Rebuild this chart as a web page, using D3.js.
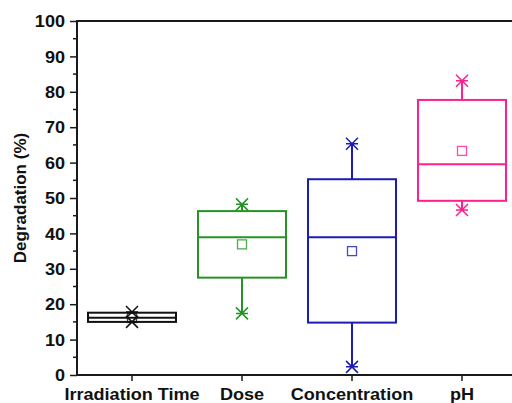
<!DOCTYPE html>
<html>
<head>
<meta charset="utf-8">
<script src="https://cdn.jsdelivr.net/npm/d3@7"></script>
<style>
  html, body { margin: 0; padding: 0; background: #fff; }
  svg { display: block; font-family: "Liberation Sans", Arial, sans-serif; }
</style>
</head>
<body>
<svg id="chart" width="512" height="403"></svg>
<script>
// Box plot values (percent degradation)
const categories = ["Irradiation Time", "Dose", "Concentration", "pH"]
const q1 = [15.0, 27.5, 14.8, 49.2]
const median = [16.2, 38.9, 38.9, 59.5]
const q3 = [17.6, 46.3, 55.3, 77.7]
const minVals = [15.0, 17.4, 2.3, 46.6]
const maxVals = [17.8, 48.2, 65.3, 83.1]
const means = [16.1, 36.9, 35.0, 63.3]
const colors = ["#111111", "#279327", "#1c1cb4", "#ff1f8e"]
const yTicks = [0, 10, 20, 30, 40, 50, 60, 70, 80, 90, 100]

const W = 512, H = 403
const mLeft = 77, mRight = 517, mTop = 21, mBottom = 375
const stretch = 1.13 // text in the picture is a bit wider than Arial

const svg = d3.select("#chart")

const x = d3.scaleBand()
  .domain(categories)
  .range([mLeft, mRight])
  .paddingInner(0.2)
  .paddingOuter(0.1)

const y = d3.scaleLinear().domain([0, 100]).range([mBottom, mTop])

// top frame line
svg.append("line")
  .attr("x1", mLeft).attr("x2", W).attr("y1", mTop).attr("y2", mTop)
  .attr("stroke", "#1a1a1a").attr("stroke-width", 2)

// y axis with minor ticks every 5
const yAxis = svg.append("g")
  .attr("transform", `translate(${mLeft},0)`)
  .call(d3.axisLeft(y).tickValues(yTicks).tickSize(7).tickFormat(d3.format("d")))
yAxis.select(".domain").attr("stroke", "#1a1a1a").attr("stroke-width", 2)
  .attr("d", `M0,${mTop - 1}V${mBottom + 1}`)
yAxis.selectAll(".tick line").attr("stroke", "#1a1a1a").attr("stroke-width", 1.5)
yAxis.selectAll(".tick text")
  .attr("font-size", 16).attr("font-weight", "bold").attr("fill", "#111")
  .attr("x", 0).attr("dy", "0.35em")
  .attr("transform", `translate(-12,0) scale(${stretch},1)`)

svg.append("g").selectAll("line")
  .data(d3.range(5, 100, 10))
  .join("line")
  .attr("x1", mLeft - 4).attr("x2", mLeft)
  .attr("y1", d => y(d)).attr("y2", d => y(d))
  .attr("stroke", "#1a1a1a").attr("stroke-width", 1.5)

// x axis
const xAxis = svg.append("g")
  .attr("transform", `translate(0,${mBottom})`)
  .call(d3.axisBottom(x).tickSize(6))
xAxis.select(".domain").attr("stroke", "#1a1a1a").attr("stroke-width", 2)
  .attr("d", `M${mLeft - 1},0H${W}`)
xAxis.selectAll(".tick line").attr("stroke", "#1a1a1a").attr("stroke-width", 1.5)
xAxis.selectAll(".tick text")
  .attr("font-size", 16).attr("font-weight", "bold").attr("fill", "#111")
  .attr("dy", 0).attr("y", 0)
  .attr("transform", `translate(0,25) scale(${stretch},1)`)

// y label
svg.append("text")
  .attr("transform", `translate(26,${(mTop + mBottom) / 2}) rotate(-90)`)
  .attr("text-anchor", "middle")
  .attr("font-size", 17)
  .attr("font-weight", "bold")
  .attr("fill", "#111")
  .text("Degradation (%)")

// boxes
const rows = categories.map((c, i) => ({
  c, q1: q1[i], med: median[i], q3: q3[i], lo: minVals[i], hi: maxVals[i], mean: means[i], color: colors[i]
}))

const bw = x.bandwidth()
const g = svg.append("g").selectAll("g").data(rows).join("g")
  .attr("transform", d => `translate(${x(d.c) + bw / 2},0)`)
  .attr("stroke", d => d.color)
  .attr("fill", "none")

// whiskers
g.append("line").attr("x1", 0).attr("x2", 0)
  .attr("y1", d => y(d.q3)).attr("y2", d => y(d.hi)).attr("stroke-width", 2)
g.append("line").attr("x1", 0).attr("x2", 0)
  .attr("y1", d => y(d.q1)).attr("y2", d => y(d.lo)).attr("stroke-width", 2)

g.append("rect")
  .attr("x", -bw / 2).attr("width", bw)
  .attr("y", d => y(d.q3)).attr("height", d => y(d.q1) - y(d.q3))
  .attr("stroke-width", 2)

g.append("line").attr("x1", -bw / 2).attr("x2", bw / 2)
  .attr("y1", d => y(d.med)).attr("y2", d => y(d.med)).attr("stroke-width", 2)

// end markers: cap dash + cross
const s = 6
const marker = (sel, key) => {
  sel.append("path")
    .attr("d", d => {
      const yy = y(d[key])
      return `M${-s},${yy - s}L${s},${yy + s}M${-s},${yy + s}L${s},${yy - s}M${-s},${yy}H${s}`
    })
    .attr("stroke-width", 1.5)
}
marker(g, "hi")
marker(g, "lo")

// mean square
g.append("rect")
  .attr("x", -4.5).attr("width", 9)
  .attr("y", d => y(d.mean) - 4.5).attr("height", 9)
  .attr("stroke-width", 1.3)
  .attr("stroke-opacity", 0.8)
</script>
</body>
</html>
